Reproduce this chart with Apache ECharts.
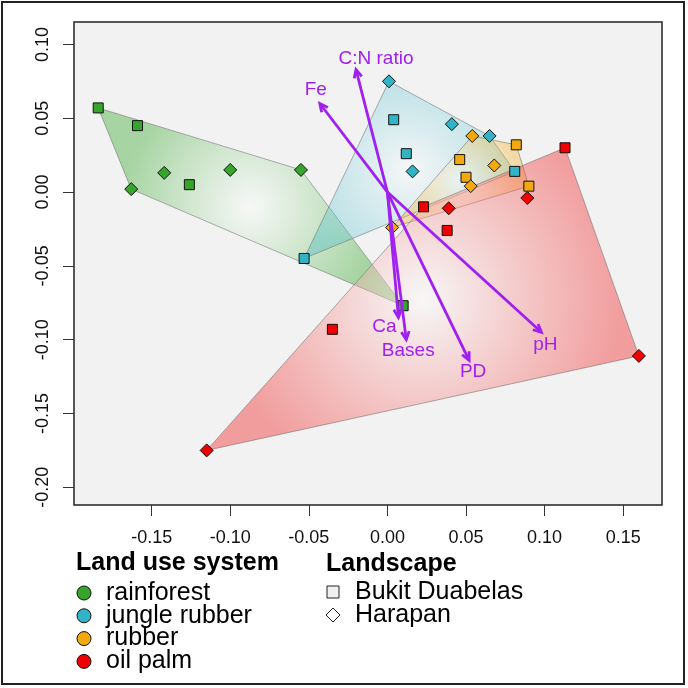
<!DOCTYPE html>
<html>
<head>
<meta charset="utf-8">
<script src="https://cdn.jsdelivr.net/npm/echarts@6/dist/echarts.min.js"></script>
<style>
html,body{margin:0;padding:0;background:#fff;}
#c{width:688px;height:688px;}
</style>
</head>
<body>
<div id="c"></div>
<script>
// ---- data ----
const landUse = ['rainforest', 'jungle rubber', 'rubber', 'oil palm'];
const landscapes = ['Bukit Duabelas', 'Harapan'];

const rainforestBukit  = [[-0.184, 0.057], [-0.159, 0.045], [-0.126, 0.005], [0.010, -0.077]];
const rainforestHarapan = [[-0.142, 0.013], [-0.100, 0.015], [-0.055, 0.015], [-0.163, 0.002]];
const jungleBukit      = [[-0.053, -0.045], [0.004, 0.049], [0.012, 0.026], [0.081, 0.014]];
const jungleHarapan    = [[0.001, 0.075], [0.041, 0.046], [0.065, 0.038], [0.016, 0.014]];
const rubberBukit      = [[0.082, 0.032], [0.046, 0.022], [0.050, 0.010], [0.090, 0.004]];
const rubberHarapan    = [[0.054, 0.038], [0.068, 0.018], [0.053, 0.004], [0.003, -0.024]];
const oilpalmBukit     = [[0.113, 0.030], [0.023, -0.010], [0.038, -0.026], [-0.035, -0.093]];
const oilpalmHarapan   = [[0.089, -0.004], [0.039, -0.011], [0.160, -0.111], [-0.115, -0.175]];

const envVars = ['C:N ratio', 'Fe', 'Ca', 'Bases', 'PD', 'pH'];
const envX = [-0.020, -0.043, 0.007, 0.012, 0.052, 0.098];
const envY = [0.083, 0.060, -0.085, -0.100, -0.114, -0.095];

const xTicks = [-0.15, -0.10, -0.05, 0.00, 0.05, 0.10, 0.15];
const yTicks = [-0.20, -0.15, -0.10, -0.05, 0.00, 0.05, 0.10];

// ---- styles ----
const groupColors = ['#35a52c', '#33b4c6', '#f2a80e', '#f00000'];
const hullRGB = ['60,170,50', '50,180,200', '245,170,20', '240,20,20'];
const hullAlpha = [0.42, 0.34, 0.34, 0.38];
const purple = '#a020f0';
const labelOffsets = [[20, -11], [-4, -14], [-14, 9], [2, 11], [4, 11], [4, 12]];
const FONT = "'Liberation Sans', Arial, Helvetica, sans-serif";

const groups = [
  [rainforestBukit, rainforestHarapan],
  [jungleBukit, jungleHarapan],
  [rubberBukit, rubberHarapan],
  [oilpalmBukit, oilpalmHarapan]
];

function convexHull(pts) {
  const p = pts.slice().sort((a, b) => a[0] - b[0] || a[1] - b[1]);
  const cross = (o, a, b) => (a[0] - o[0]) * (b[1] - o[1]) - (a[1] - o[1]) * (b[0] - o[0]);
  const lower = [];
  for (const q of p) { while (lower.length >= 2 && cross(lower[lower.length - 2], lower[lower.length - 1], q) <= 0) lower.pop(); lower.push(q); }
  const upper = [];
  for (let i = p.length - 1; i >= 0; i--) { const q = p[i]; while (upper.length >= 2 && cross(upper[upper.length - 2], upper[upper.length - 1], q) <= 0) upper.pop(); upper.push(q); }
  upper.pop(); lower.pop();
  return lower.concat(upper);
}

const series = [];
// hulls
groups.forEach((g, gi) => {
  const all = g[0].concat(g[1]);
  const hull = convexHull(all);
  series.push({
    type: 'custom',
    z: 2,
    silent: true,
    data: hull,
    renderItem: function (params, api) {
      if (params.dataIndex !== 0) return null;
      const pts = hull.map(p => api.coord(p));
      return {
        type: 'polygon',
        shape: { points: pts },
        style: {
          fill: new echarts.graphic.RadialGradient(0.5, 0.5, 0.65, [
            { offset: 0, color: 'rgba(255,255,255,0.4)' },
            { offset: 1, color: 'rgba(' + hullRGB[gi] + ',' + hullAlpha[gi] + ')' }
          ]),
          stroke: 'rgba(110,110,110,0.55)',
          lineWidth: 1
        }
      };
    }
  });
});
// points
groups.forEach((g, gi) => {
  ['rect', 'diamond'].forEach((sym, li) => {
    series.push({
      type: 'scatter',
      name: landUse[gi] + ' / ' + landscapes[li],
      z: 3,
      symbol: sym,
      symbolSize: sym === 'rect' ? 10 : 13,
      itemStyle: { color: groupColors[gi], borderColor: '#111', borderWidth: 1, opacity: 1 },
      data: g[li]
    });
  });
});
// environmental arrows
series.push({
  type: 'custom',
  z: 4,
  silent: true,
  data: envX.map((x, i) => [x, envY[i]]),
  renderItem: function (params, api) {
    const i = params.dataIndex;
    const o = api.coord([0, 0]);
    const t = api.coord([api.value(0), api.value(1)]);
    const ang = Math.atan2(t[1] - o[1], t[0] - o[0]);
    const L = 9, a = Math.PI / 7;
    const h1 = [t[0] - L * Math.cos(ang - a), t[1] - L * Math.sin(ang - a)];
    const h2 = [t[0] - L * Math.cos(ang + a), t[1] - L * Math.sin(ang + a)];
    const off = labelOffsets[i];
    return {
      type: 'group',
      children: [
        { type: 'line', shape: { x1: o[0], y1: o[1], x2: t[0], y2: t[1] }, style: { stroke: purple, lineWidth: 2.8 } },
        { type: 'polyline', shape: { points: [h1, t, h2] }, style: { stroke: purple, lineWidth: 2.8, fill: 'none' } },
        { type: 'text', x: t[0] + off[0], y: t[1] + off[1],
          style: { text: envVars[i], fill: purple, fontSize: 19, fontFamily: FONT, align: 'center', verticalAlign: 'middle' } }
      ]
    };
  }
});

const legendItems = [];
legendItems.push({ type: 'text', left: 76, top: 551, style: { text: 'Land use system', fill: '#000', font: "bold 25px " + FONT } });
landUse.forEach((n, i) => {
  const cy = 593 + i * 22.8;
  legendItems.push({ type: 'circle', shape: { cx: 84, cy: cy, r: 7 }, style: { fill: groupColors[i], stroke: '#111', lineWidth: 1 } });
  legendItems.push({ type: 'text', x: 106, y: cy, style: { text: n, fill: '#000', font: "25px " + FONT, verticalAlign: 'middle' } });
});
legendItems.push({ type: 'text', left: 326, top: 552, style: { text: 'Landscape', fill: '#000', font: "bold 25px " + FONT } });
legendItems.push({ type: 'rect', shape: { x: 327, y: 586, width: 12, height: 12 }, style: { fill: '#f0f0f0', stroke: '#222', lineWidth: 1 } });
legendItems.push({ type: 'text', x: 355, y: 592, style: { text: landscapes[0], fill: '#000', font: "25px " + FONT, verticalAlign: 'middle' } });
legendItems.push({ type: 'polygon', shape: { points: [[333, 608], [340, 615], [333, 622], [326, 615]] }, style: { fill: '#fff', stroke: '#222', lineWidth: 1 } });
legendItems.push({ type: 'text', x: 355, y: 615, style: { text: landscapes[1], fill: '#000', font: "25px " + FONT, verticalAlign: 'middle' } });
legendItems.push({ type: 'rect', shape: { x: 2, y: 2, width: 682, height: 682 }, style: { fill: 'none', stroke: '#222', lineWidth: 2 }, z: 100 });

const chart = echarts.init(document.getElementById('c'), null, { renderer: 'canvas' });
chart.setOption({
  animation: false,
  backgroundColor: '#fff',
  grid: { left: 74, top: 22, right: 26, bottom: 183, show: true, backgroundColor: '#f2f2f2', borderColor: '#222', borderWidth: 1.5 },
  xAxis: {
    type: 'value', min: -0.1994, max: 0.1747,
    splitLine: { show: false },
    axisLine: { show: false, onZero: false },
    axisTick: { show: true, customValues: xTicks, length: 11, lineStyle: { color: '#333', width: 1 } },
    axisLabel: { customValues: xTicks, formatter: v => v.toFixed(2), fontSize: 18, fontFamily: FONT, color: '#111', margin: 24 }
  },
  yAxis: {
    type: 'value', min: -0.2120, max: 0.1152,
    splitLine: { show: false },
    axisLine: { show: false, onZero: false },
    axisTick: { show: true, customValues: yTicks, length: 11, lineStyle: { color: '#333', width: 1 } },
    axisLabel: { customValues: yTicks, formatter: v => v.toFixed(2), rotate: 90, fontSize: 18, fontFamily: FONT, color: '#111', margin: 22 }
  },
  graphic: legendItems,
  series: series
});
</script>
</body>
</html>
